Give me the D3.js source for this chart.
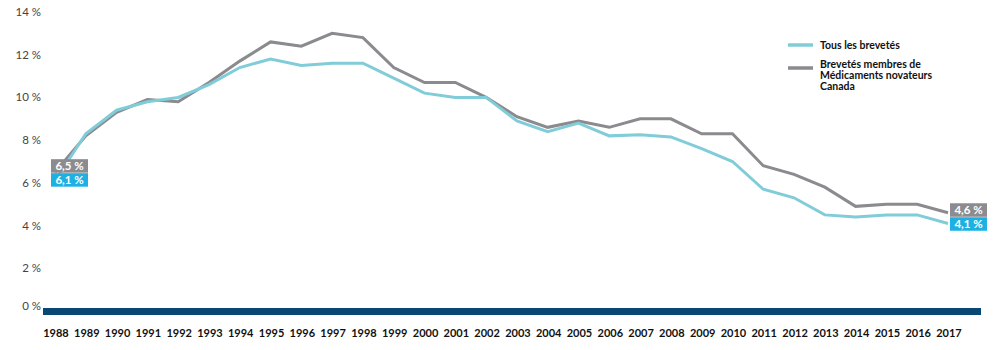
<!DOCTYPE html>
<html>
<head>
<meta charset="utf-8">
<script src="https://cdn.jsdelivr.net/npm/d3@7"></script>
<style>
  body { margin: 0; background: #fff; }
  text { font-family: Lato, "Open Sans", sans-serif; }
</style>
</head>
<body>
<div id="chart"></div>
<script>
// Data
const years = d3.range(1988, 2018);
const tousBrevetes = [6.1, 8.3, 9.4, 9.8, 10.0, 10.6, 11.4, 11.8, 11.5, 11.6, 11.6, 10.9, 10.2, 10.0, 10.0,
  8.9, 8.4, 8.8, 8.2, 8.25, 8.15, 7.6, 7.0, 5.7, 5.3, 4.5, 4.4, 4.5, 4.5, 4.1];
const membresMNC = [6.5, 8.2, 9.3, 9.9, 9.8, 10.7, 11.7, 12.6, 12.4, 13.0, 12.8, 11.4, 10.7, 10.7, 10.0,
  9.1, 8.6, 8.9, 8.6, 9.0, 9.0, 8.3, 8.3, 6.8, 6.4, 5.8, 4.9, 5.0, 5.0, 4.6];
const yTicks = [0, 2, 4, 6, 8, 10, 12, 14];
const legendLabels = [["Tous les brevetés"], ["Brevetés membres de", "Médicaments novateurs", "Canada"]];

const colors = { tous: "#80ccd8", mnc: "#8a8a8f", tousBox: "#1cb0e3", mncBox: "#8c8c90", axis: "#0a4874" };

const W = 998, H = 350;
const svg = d3.select("#chart").append("svg")
    .attr("width", W)
    .attr("height", H);

const x = d3.scaleLinear().domain([1988, 2017]).range([55, 948]);
const y = d3.scaleLinear().domain([0, 14]).range([311, 12]);

// Y labels (the 0 % label sits just above the thick baseline)
svg.append("g")
    .selectAll("text")
    .data(yTicks)
    .join("text")
    .attr("x", 41)
    .attr("y", d => d === 0 ? y(d) - 5 : y(d))
    .attr("dy", "0.35em")
    .attr("text-anchor", "end")
    .attr("fill", "#444")
    .style("font-size", "11.5px")
    .text(d => `${d} %`);

// Thick baseline
svg.append("rect")
    .attr("x", x(1988) - 12)
    .attr("y", y(0) - 3)
    .attr("width", x(2017) + 33 - (x(1988) - 12))
    .attr("height", 7)
    .attr("fill", colors.axis);

// Year labels
svg.append("g")
    .selectAll("text")
    .data(years)
    .join("text")
    .attr("x", d => x(d) + 1)
    .attr("y", 337)
    .attr("text-anchor", "middle")
    .attr("fill", "#111")
    .style("font-size", "11px")
    .style("font-weight", "bold")
    .text(d => d);

// Lines
const line = d3.line()
    .x((d, i) => x(years[i]))
    .y(d => y(d));

svg.append("path")
    .datum(membresMNC)
    .attr("fill", "none")
    .attr("stroke", colors.mnc)
    .attr("stroke-width", 3)
    .attr("d", line);

svg.append("path")
    .datum(tousBrevetes)
    .attr("fill", "none")
    .attr("stroke", colors.tous)
    .attr("stroke-width", 3)
    .attr("d", line);

// Value boxes at both ends
function valueBox(bx, cy, fill, label) {
    const g = svg.append("g");
    g.append("rect")
        .attr("x", bx)
        .attr("y", cy - 6.5)
        .attr("width", 37)
        .attr("height", 13.5)
        .attr("fill", fill);
    g.append("text")
        .attr("x", bx + 18.5)
        .attr("y", cy)
        .attr("dy", "0.36em")
        .attr("text-anchor", "middle")
        .attr("fill", "#fff")
        .style("font-size", "11.5px")
        .style("font-weight", "bold")
        .text(label);
}
const fmt = v => d3.format(".1f")(v).replace(".", ",") + " %";
const first = 0, last = years.length - 1;
valueBox(x(years[first]) - 4, y(membresMNC[first]) - 6.5, colors.mncBox, fmt(membresMNC[first]));
valueBox(x(years[first]) - 4, y(membresMNC[first]) + 7.5, colors.tousBox, fmt(tousBrevetes[first]));
valueBox(x(years[last]) + 2, y(membresMNC[last]) - 3, colors.mncBox, fmt(membresMNC[last]));
valueBox(x(years[last]) + 2, y(membresMNC[last]) + 11, colors.tousBox, fmt(tousBrevetes[last]));

// Legend
const legend = svg.append("g").attr("transform", "translate(788,45)");
[colors.tous, colors.mnc].forEach((c, i) => {
    const gy = i * 23;
    legend.append("line")
        .attr("x1", 0).attr("x2", 25)
        .attr("y1", gy).attr("y2", gy)
        .attr("stroke", c)
        .attr("stroke-width", 3.5);
    legendLabels[i].forEach((s, k) => {
        legend.append("text")
            .attr("x", 32)
            .attr("y", (i === 0 ? gy : gy - 4) + k * 11)
            .attr("dy", "0.35em")
            .attr("fill", "#111")
            .style("font-size", "10.5px")
            .style("font-weight", "bold")
            .text(s);
    });
});
</script>
</body>
</html>
